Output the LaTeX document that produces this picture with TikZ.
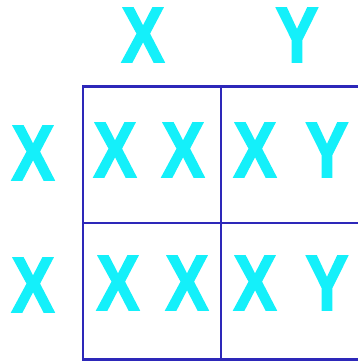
\documentclass[tikz,border=0pt]{standalone}
\usepackage{fontspec}
\usepackage{graphicx}
\setmainfont{Liberation Sans}
\newfontfamily\genefont[FakeBold=2.5]{Liberation Sans Bold}
\usetikzlibrary{positioning}
\definecolor{allelecyan}{RGB}{20,240,250}
\definecolor{gridblue}{RGB}{45,40,185}
\newcommand{\allele}[1]{\scalebox{0.82}[1]{#1}}

\begin{document}
\begin{tikzpicture}[x=1pt, y=-1pt,
  cell/.style={draw=gridblue, line width=2.5pt, minimum width=138pt, minimum height=136.5pt, inner sep=0pt},
  gene/.style={text=allelecyan, font=\fontsize{78}{78}\genefont, inner sep=0pt}
]
  \useasboundingbox (0,0) rectangle (357,364);
  % punnett grid
  \node[cell] (xx1) at (152,154.5) {};
  \node[cell, right=-2.5pt of xx1] (xy1) {};
  \node[cell, below=-2.5pt of xx1] (xx2) {};
  \node[cell, right=-2.5pt of xx2] (xy2) {};
  % parent alleles
  \node[gene] (topx) at (143,35) {\allele{X}};
  \node[gene] (topy) at (297,35) {\allele{Y}};
  \node[gene] (leftx1) at (33,153) {\allele{X}};
  \node[gene] (leftx2) at (33,285) {\allele{X}};
  % offspring
  \node[gene] (a1) at (115,150) {\allele{X}};
  \node[gene] (b1) at (183,150) {\allele{X}};
  \node[gene] (c1) at (255,150) {\allele{X}};
  \node[gene] (d1) at (327,150) {\allele{Y}};
  \node[gene] (a2) at (118,283) {\allele{X}};
  \node[gene] (b2) at (187,283) {\allele{X}};
  \node[gene] (c2) at (255,283) {\allele{X}};
  \node[gene] (d2) at (327,283) {\allele{Y}};
\end{tikzpicture}
\end{document}
